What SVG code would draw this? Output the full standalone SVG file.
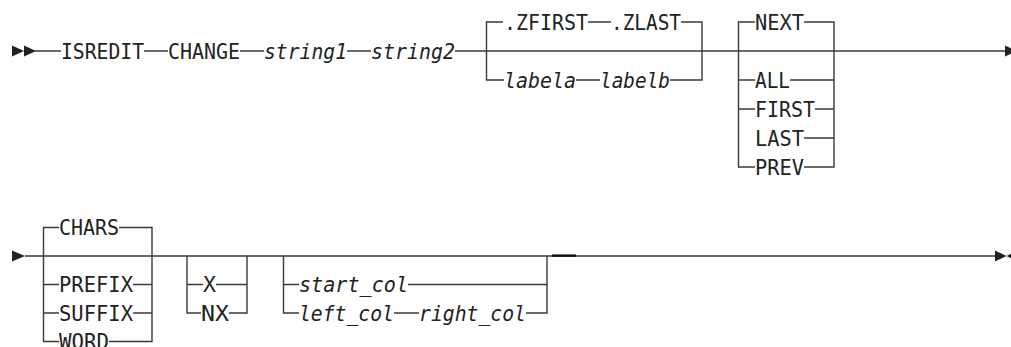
<svg xmlns="http://www.w3.org/2000/svg" width="1011" height="347" viewBox="0 0 1011 347">
<style>
.t{font-family:"DejaVu Sans Mono","Liberation Mono",monospace;font-size:21px;fill:#222}
.i{font-style:italic}
.ln{fill:none;stroke:#3a3a3a;stroke-width:1.4}
.ar{fill:#222}
</style>
<rect width="1011" height="347" fill="#fff"/>
<g id="connectors">
<path class="ln" d="M35 51 H61 M144 51 H168 M240 51 H264 M347 51 H371 M455 51 H1005"/>
<path class="ln" d="M503 22 H486.5 V80 H504 M588 22 H611 M681 22 H702 V80 H670 M576 80 H600"/>
<path class="ln" d="M755 22 H738.5 V167 H755 M804 22 H834 V167 H804 M738.5 80 H755 M790 80 H834 M738.5 109 H755 M815 109 H834 M804 138 H834"/>
<path class="ln" d="M25 256 H995"/>
<path class="ln" d="M59 227.5 H43.5 V341.5 H59 M119 227.5 H152 V341.5 H109 M43.5 284.5 H59 M133 284.5 H152 M43.5 313 H59 M133 313 H152"/>
<path class="ln" d="M187 256 V313 H201 M187 284.5 H203 M216 284.5 H247 M229 313 H247 V256"/>
<path class="ln" d="M283.5 256 V313 H299 M283.5 284.5 H299 M408 284.5 H547 M394 313 H419 M526 313 H547 V256"/>
<path d="M552 255.6 H576" fill="none" stroke="#111" stroke-width="2.4"/>
<path class="ar" d="M12 45.5 L24 51 L12 56.5 Z M24 45.5 L36 51 L24 56.5 Z"/>
<path class="ar" d="M1005 45.5 L1017 51 L1005 56.5 Z"/>
<path class="ar" d="M12 250.5 L25 256 L12 261.5 Z"/>
<path class="ar" d="M995 250.5 L1006.5 256 L995 261.5 Z M1018 250.5 L1006.5 256 L1018 261.5 Z"/>
</g>
<g id="isredit"><text class="t" x="61" y="58.6" textLength="83" lengthAdjust="spacingAndGlyphs">ISREDIT</text></g>
<g id="change"><text class="t" x="168" y="58.6" textLength="72" lengthAdjust="spacingAndGlyphs">CHANGE</text></g>
<g id="string1"><text class="t i" x="264" y="58.6" textLength="83" lengthAdjust="spacingAndGlyphs">string1</text></g>
<g id="string2"><text class="t i" x="371" y="58.6" textLength="84" lengthAdjust="spacingAndGlyphs">string2</text></g>
<g id="zfirst"><text class="t" x="504" y="29.6" textLength="84" lengthAdjust="spacingAndGlyphs">.ZFIRST</text></g>
<g id="zlast"><text class="t" x="611" y="29.6" textLength="70" lengthAdjust="spacingAndGlyphs">.ZLAST</text></g>
<g id="labela"><text class="t i" x="504" y="87.6" textLength="72" lengthAdjust="spacingAndGlyphs">labela</text></g>
<g id="labelb"><text class="t i" x="600" y="87.6" textLength="70" lengthAdjust="spacingAndGlyphs">labelb</text></g>
<g id="next"><text class="t" x="755" y="29.6" textLength="49" lengthAdjust="spacingAndGlyphs">NEXT</text></g>
<g id="all"><text class="t" x="755" y="87.6" textLength="35" lengthAdjust="spacingAndGlyphs">ALL</text></g>
<g id="first"><text class="t" x="755" y="116.6" textLength="60" lengthAdjust="spacingAndGlyphs">FIRST</text></g>
<g id="last"><text class="t" x="755" y="145.6" textLength="49" lengthAdjust="spacingAndGlyphs">LAST</text></g>
<g id="prev"><text class="t" x="755" y="174.6" textLength="49" lengthAdjust="spacingAndGlyphs">PREV</text></g>
<g id="chars"><text class="t" x="59" y="235.1" textLength="60" lengthAdjust="spacingAndGlyphs">CHARS</text></g>
<g id="prefix"><text class="t" x="59" y="292.1" textLength="74" lengthAdjust="spacingAndGlyphs">PREFIX</text></g>
<g id="suffix"><text class="t" x="59" y="320.6" textLength="74" lengthAdjust="spacingAndGlyphs">SUFFIX</text></g>
<g id="word"><text class="t" x="59" y="349.1" textLength="50" lengthAdjust="spacingAndGlyphs">WORD</text></g>
<g id="x"><text class="t" x="203" y="292.1" textLength="13" lengthAdjust="spacingAndGlyphs">X</text></g>
<g id="nx"><text class="t" x="201" y="320.6" textLength="28" lengthAdjust="spacingAndGlyphs">NX</text></g>
<g id="start_col"><text class="t i" x="299" y="292.1" textLength="109" lengthAdjust="spacingAndGlyphs">start_col</text></g>
<g id="left_col"><text class="t i" x="299" y="320.6" textLength="95" lengthAdjust="spacingAndGlyphs">left_col</text></g>
<g id="right_col"><text class="t i" x="419" y="320.6" textLength="107" lengthAdjust="spacingAndGlyphs">right_col</text></g>
</svg>
